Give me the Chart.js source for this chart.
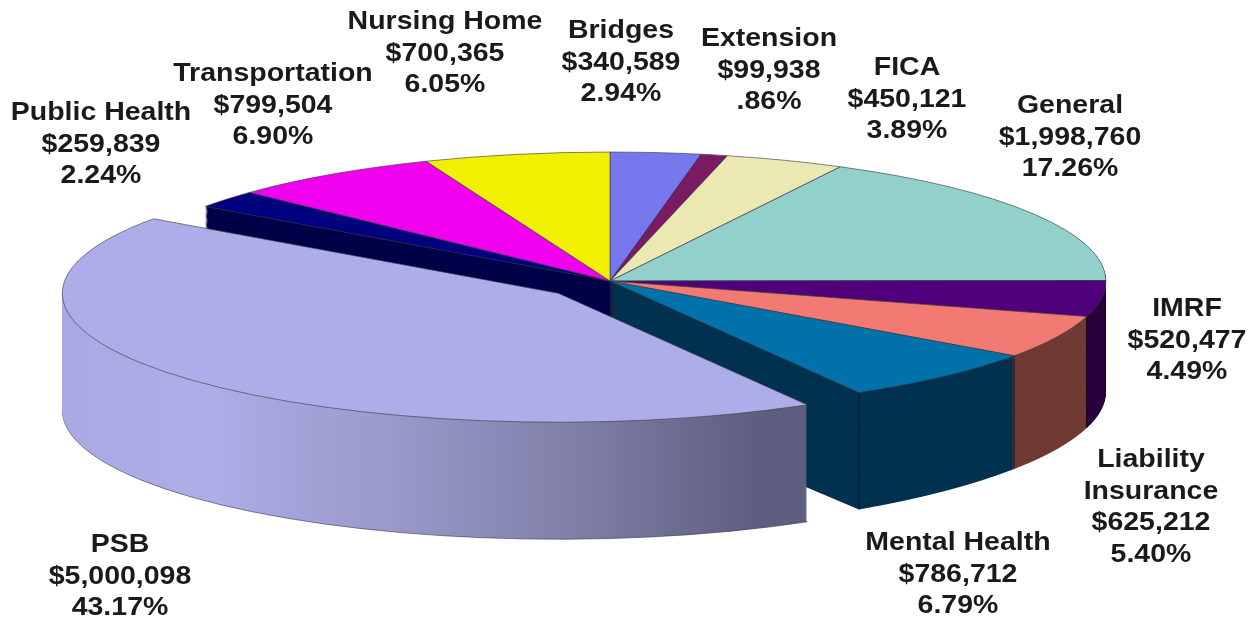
<!DOCTYPE html>
<html>
<head>
<meta charset="utf-8">
<title>Budget by fund</title>
<style>
  html, body { margin: 0; padding: 0; background: #fff; }
  canvas { display: block; }
</style>
<script src="https://cdn.jsdelivr.net/npm/chart.js@4/dist/chart.umd.min.js"></script>
</head>
<body>
<canvas id="chart" width="1257" height="623"></canvas>
<script>
// slices clockwise from 12 o'clock
const categories = ["Bridges", "Extension", "FICA", "General", "IMRF", "Liability\nInsurance",
    "Mental Health", "PSB", "Public Health", "Transportation", "Nursing Home"];
const amounts = [340589, 99938, 450121, 1998760, 520477, 625212, 786712, 5000098, 259839, 799504, 700365];
const percents = ["2.94%", ".86%", "3.89%", "17.26%", "4.49%", "5.40%", "6.79%", "43.17%", "2.24%", "6.90%", "6.05%"];

const topColors = ["#7878ee", "#7a1a62", "#ece8b2", "#92d0cc", "#50007a", "#f27a72",
    "#0072aa", "#adade9", "#00007e", "#f000ee", "#f0f000"];
// back walls are hidden, they take the colour of the wall in front so the centre stays clean
const wallColors = ["#003250", "#003250", "#003250", "#28003c", "#28003c", "#703a34",
    "#003250", null, "#00004a", "#00004a", "#00004a"];

// label centre x and y of the first line
const labelX = [621, 769, 907, 1070, 1187, 1151, 958, 120, 101, 273, 445];
const labelY = [31, 39, 68, 106, 309, 460, 543, 545, 113, 74, 22];
const LINE_H = 31.7;
const TEXT_STRETCH = 1.14; // the picture is wider than the font

// pie geometry
const RADIUS = 496;
const SQUASH = 0.26;
const DEPTH = 117;
const EXPLODE = [0, 0, 0, 0, 0, 0, 0, 70, 0, 0, 0];
// the right hand walls get a bit shorter towards the back
const SHEAR = 0.000205;
const SHEAR_X = 858;

const canvas = document.getElementById("chart");

// PSB side gets a left to right shade
const psbWall = canvas.getContext("2d").createLinearGradient(60, 0, 806, 0);
psbWall.addColorStop(0, "#9c9cd8");
psbWall.addColorStop(0.04, "#a8a8e2");
psbWall.addColorStop(0.27, "#adade8");
psbWall.addColorStop(0.55, "#9696c6");
psbWall.addColorStop(0.8, "#7a7aa2");
psbWall.addColorStop(1, "#5e5e80");
wallColors[7] = psbWall;

function drawSlice(ctx, arc, i, lift, overrides) {
    const mid = (arc.startAngle + arc.endAngle) / 2;
    const copy = Object.create(arc);
    copy.options = Object.assign({}, arc.options, overrides);
    ctx.save();
    if (!EXPLODE[i]) ctx.transform(1, -lift * SHEAR, 0, 1, 0, lift * SHEAR * SHEAR_X);
    ctx.translate(arc.x, arc.y + lift);
    ctx.scale(1, SQUASH);
    ctx.translate(Math.cos(mid) * EXPLODE[i], Math.sin(mid) * EXPLODE[i]);
    ctx.translate(-arc.x, -arc.y);
    copy.draw(ctx);
    ctx.restore();
}

const pie3d = {
    id: "pie3d",
    beforeDatasetsDraw(chart) {
        const ctx = chart.ctx;
        const arcs = chart.getDatasetMeta(0).data;

        // side walls, stacked from the bottom up
        for (let d = DEPTH; d > 0; d--) {
            arcs.forEach((arc, i) => {
                const bottom = d === DEPTH;
                drawSlice(ctx, arc, i, d, {
                    backgroundColor: wallColors[i],
                    borderColor: bottom ? "#3a3a50" : wallColors[i],
                    borderWidth: bottom && EXPLODE[i] ? 1 : 0
                });
            });
        }

        // vertical edges on the front of the unexploded slices
        ctx.strokeStyle = "rgba(0,0,0,0.55)";
        ctx.lineWidth = 1;
        arcs.forEach((arc, i) => {
            if (EXPLODE[i] || Math.sin(arc.endAngle) <= 0) return;
            const x = arc.x + Math.cos(arc.endAngle) * arc.outerRadius;
            const y = arc.y + Math.sin(arc.endAngle) * arc.outerRadius * SQUASH;
            ctx.beginPath();
            ctx.moveTo(x, y);
            ctx.lineTo(x, y + DEPTH * (1 - (x - SHEAR_X) * SHEAR));
            ctx.stroke();
        });

        // top faces
        arcs.forEach((arc, i) => drawSlice(ctx, arc, i, 0, {}));
        return false;
    },
    afterDraw(chart) {
        const ctx = chart.ctx;
        ctx.save();
        ctx.fillStyle = "#1a1a1a";
        ctx.filter = "blur(0.45px)";
        ctx.font = "bold 25px 'Liberation Sans', Arial, sans-serif";
        ctx.textAlign = "center";
        ctx.textBaseline = "middle";
        categories.forEach((name, i) => {
            const lines = name.split("\n");
            lines.push("$" + amounts[i].toLocaleString("en-US"), percents[i]);
            lines.forEach((line, n) => {
                ctx.save();
                ctx.translate(labelX[i], labelY[i] + n * LINE_H);
                ctx.scale(TEXT_STRETCH, 1);
                ctx.fillText(line, 0, 0);
                ctx.restore();
            });
        });
        ctx.restore();
    }
};

new Chart(canvas, {
    type: "pie",
    data: {
        labels: categories,
        datasets: [{
            data: amounts,
            backgroundColor: topColors,
            borderColor: "#3c3c44",
            borderWidth: 1,
            radius: RADIUS
        }]
    },
    options: {
        responsive: false,
        animation: false,
        events: [],
        layout: { padding: { left: 0, top: 0, right: 37, bottom: 61 } },
        plugins: { legend: { display: false }, tooltip: { enabled: false } }
    },
    plugins: [pie3d]
});
</script>
</body>
</html>
